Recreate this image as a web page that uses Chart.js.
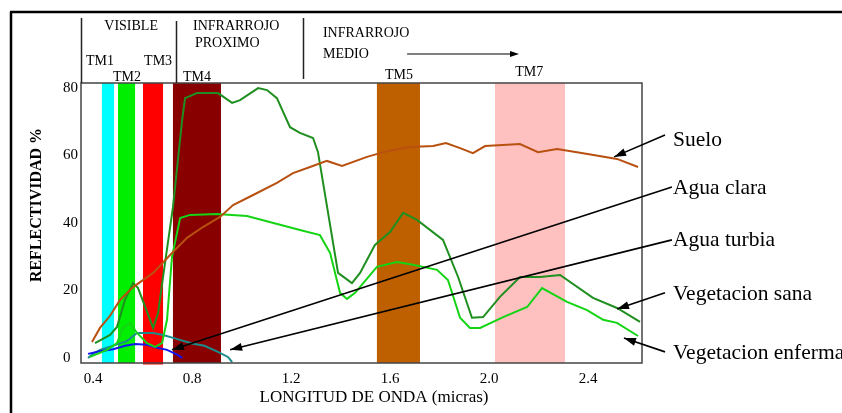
<!DOCTYPE html>
<html>
<head>
<meta charset="utf-8">
<script src="https://cdn.jsdelivr.net/npm/chart.js@4.4.1/dist/chart.umd.min.js"></script>
<style>
  html, body { margin: 0; padding: 0; background: #fff; }
  canvas { display: block; }
</style>
</head>
<body>
<canvas id="c" width="842" height="413"></canvas>
<script>
// Axis ticks
const xTicks = [0.4, 0.8, 1.2, 1.6, 2.0, 2.4];
const yTicks = [0, 20, 40, 60, 80];

// Spectral reflectance curves (wavelength in micrometres, reflectance in %)
const sueloX = [0.396, 0.428, 0.469, 0.509, 0.562, 0.643, 0.723, 0.780, 0.844, 0.913, 0.966, 1.047, 1.143, 1.208, 1.277, 1.345, 1.406, 1.507, 1.588, 1.681, 1.774, 1.826, 1.883, 1.935, 1.984, 2.125, 2.198, 2.275, 2.380, 2.517, 2.602];
const sueloY = [4.7, 8.9, 12.5, 17.2, 21.0, 25.2, 31.4, 35.6, 38.8, 41.8, 45.3, 48.3, 51.9, 54.8, 56.6, 58.4, 56.9, 59.6, 61.3, 62.5, 62.8, 63.7, 62.2, 60.7, 62.8, 63.4, 61.0, 61.9, 60.7, 59.0, 56.6];

const vegSanaX = [0.408, 0.469, 0.497, 0.529, 0.562, 0.582, 0.643, 0.663, 0.683, 0.723, 0.760, 0.772, 0.820, 0.905, 0.962, 0.994, 1.067, 1.103, 1.143, 1.196, 1.236, 1.289, 1.309, 1.390, 1.446, 1.479, 1.539, 1.600, 1.653, 1.709, 1.814, 1.875, 1.931, 1.976, 2.044, 2.125, 2.206, 2.287, 2.420, 2.517, 2.610];
const vegSanaY = [4.4, 6.8, 9.2, 17.2, 22.2, 20.7, 8.9, 13.3, 24.0, 44.7, 70.5, 77.0, 78.5, 78.5, 75.6, 76.4, 80.0, 79.4, 77.0, 68.4, 66.7, 65.2, 61.0, 25.2, 22.2, 25.2, 33.5, 37.3, 43.0, 40.9, 35.0, 24.0, 11.9, 12.1, 18.1, 24.0, 24.0, 24.6, 17.8, 14.8, 10.7];

const vegEnfermaX = [0.388, 0.457, 0.497, 0.521, 0.549, 0.578, 0.618, 0.651, 0.679, 0.699, 0.719, 0.752, 0.792, 0.901, 1.022, 1.236, 1.317, 1.358, 1.398, 1.426, 1.459, 1.547, 1.628, 1.693, 1.790, 1.834, 1.883, 1.923, 1.964, 2.057, 2.154, 2.214, 2.315, 2.396, 2.461, 2.517, 2.602];
const vegEnfermaY = [0.3, 2.4, 4.4, 8.9, 10.4, 7.4, 4.4, 3.3, 4.4, 11.3, 29.9, 41.5, 42.4, 42.7, 42.1, 37.9, 36.4, 31.1, 19.3, 17.5, 19.3, 27.0, 28.4, 27.6, 26.1, 23.1, 11.9, 8.9, 8.9, 12.1, 15.1, 20.7, 16.6, 14.2, 11.3, 10.4, 6.5];

const aguaClaraX = [0.380, 0.428, 0.481, 0.530, 0.570, 0.618, 0.660, 0.699, 0.740, 0.760];
const aguaClaraY = [1.2, 2.0, 2.6, 3.6, 4.1, 3.9, 3.0, 2.4, 1.0, 0.0];

const aguaTurbiaX = [0.380, 0.400, 0.428, 0.489, 0.537, 0.578, 0.643, 0.683, 0.731, 0.800, 0.850, 0.905, 0.945, 0.962];
const aguaTurbiaY = [0.0, 1.2, 2.4, 3.8, 5.0, 7.4, 7.4, 6.8, 5.8, 4.3, 3.6, 1.8, 0.3, -1.2];

// Landsat TM bands: name, start and end wavelength, fill colour
const bandNames = ['TM1', 'TM2', 'TM3', 'TM4', 'TM5', 'TM7'];
const bandStart = [0.436, 0.501, 0.602, 0.723, 1.547, 2.024];
const bandEnd   = [0.485, 0.570, 0.683, 0.917, 1.721, 2.307];
const bandColors = ['#00ffff', '#00ee00', '#ff0000', '#880000', '#bf6000', '#ffc0c0'];

const FONT = '"Liberation Serif", "DejaVu Serif", serif';

function pts(xs, ys) { return xs.map((x, i) => ({ x: x, y: ys[i] })); }

const series = [
  { label: 'Suelo', data: pts(sueloX, sueloY), color: '#b8500f' },
  { label: 'Vegetacion sana', data: pts(vegSanaX, vegSanaY), color: '#1f8f1f' },
  { label: 'Vegetacion enferma', data: pts(vegEnfermaX, vegEnfermaY), color: '#14d414' },
  { label: 'Agua clara', data: pts(aguaClaraX, aguaClaraY), color: '#1414f0' },
  { label: 'Agua turbia', data: pts(aguaTurbiaX, aguaTurbiaY), color: '#1a8c8c' }
];

// Callout labels with arrows, in data units (tail near the text, head at the curve)
const callouts = [
  { text: 'Suelo',              tx: 2.743, ty: 64.6, from: [2.711, 66.1], to: [2.505, 59.6] },
  { text: 'Agua clara',         tx: 2.743, ty: 50.4, from: [2.739, 50.7], to: [0.719, 2.4] },
  { text: 'Agua turbia',        tx: 2.743, ty: 35.0, from: [2.739, 35.0], to: [0.954, 2.4] },
  { text: 'Vegetacion sana',    tx: 2.743, ty: 18.7, from: [2.711, 19.3], to: [2.517, 14.5] },
  { text: 'Vegetacion enferma', tx: 2.743, ty: 1.5,  from: [2.711, 1.8],  to: [2.545, 5.9] }
];

function arrowHead(ctx, x0, y0, x1, y1, len, half) {
  const a = Math.atan2(y1 - y0, x1 - x0);
  ctx.beginPath();
  ctx.moveTo(x1, y1);
  ctx.lineTo(x1 - len * Math.cos(a) + half * Math.sin(a), y1 - len * Math.sin(a) - half * Math.cos(a));
  ctx.lineTo(x1 - len * Math.cos(a) - half * Math.sin(a), y1 - len * Math.sin(a) + half * Math.cos(a));
  ctx.closePath();
  ctx.fill();
}

const bandPlugin = {
  id: 'bands',
  beforeDatasetsDraw(chart) {
    const { ctx, chartArea: a, scales: { x } } = chart;
    ctx.save();
    bandStart.forEach((s, i) => {
      const p0 = x.getPixelForValue(s), p1 = x.getPixelForValue(bandEnd[i]);
      ctx.fillStyle = bandColors[i];
      ctx.fillRect(p0, a.top, p1 - p0, a.bottom - a.top + (i === 2 ? 1.5 : 0));
    });
    ctx.restore();
  }
};

const decorPlugin = {
  id: 'decor',
  afterDraw(chart) {
    const { ctx, chartArea: a, scales: { x, y } } = chart;
    ctx.save();

    // plot frame
    ctx.strokeStyle = '#444';
    ctx.lineWidth = 1.5;
    ctx.strokeRect(a.left, a.top, a.right - a.left, a.bottom - a.top);

    // outer frame (top and left)
    ctx.strokeStyle = '#000';
    ctx.lineWidth = 2.5;
    ctx.beginPath();
    ctx.moveTo(10, 12); ctx.lineTo(chart.width, 12);
    ctx.moveTo(11, 12); ctx.lineTo(11, chart.height);
    ctx.stroke();

    // spectral region separators
    ctx.strokeStyle = '#222';
    ctx.lineWidth = 1.5;
    const seps = [[x.min, 65, 0], [0.7354, 62, 0], [1.2485, 65, 4]];
    ctx.beginPath();
    seps.forEach(s => {
      const px = Math.round(x.getPixelForValue(s[0])) + 0.5;
      ctx.moveTo(px, a.top - s[1]); ctx.lineTo(px, a.top - s[2]);
    });
    ctx.stroke();

    // region and band titles
    ctx.fillStyle = '#000';
    ctx.font = '14px ' + FONT;
    ctx.textBaseline = 'middle';
    const header = [
      ['VISIBLE', 0.554, -57, 'center'],
      ['INFRARROJO', 0.804, -57, 'left'],
      ['PROXIMO', 0.812, -40, 'left'],
      ['INFRARROJO', 1.329, -50, 'left'],
      ['MEDIO', 1.329, -29, 'left'],
      ['TM1', 0.428, -22, 'center'],
      ['TM2', 0.537, -6, 'center'],
      ['TM3', 0.663, -22, 'center'],
      ['TM4', 0.820, -6, 'center'],
      ['TM5', 1.636, -8, 'center'],
      ['TM7', 2.162, -11, 'center']
    ];
    header.forEach(h => {
      ctx.textAlign = h[3];
      ctx.fillText(h[0], x.getPixelForValue(h[1]), a.top + h[2]);
    });

    // arrow after "MEDIO"
    const ax0 = x.getPixelForValue(1.669), ax1 = x.getPixelForValue(2.121), ay = a.top - 29;
    ctx.strokeStyle = '#000';
    ctx.lineWidth = 1.2;
    ctx.beginPath(); ctx.moveTo(ax0, ay); ctx.lineTo(ax1 - 4, ay); ctx.stroke();
    arrowHead(ctx, ax0, ay, ax1, ay, 9, 3);

    // axis titles
    ctx.font = 'bold 16px ' + FONT;
    ctx.textAlign = 'center';
    ctx.save();
    ctx.translate(37, 205);
    ctx.rotate(-Math.PI / 2);
    ctx.fillText('REFLECTIVIDAD %', 0, 0);
    ctx.restore();
    ctx.font = '17px ' + FONT;
    ctx.fillText('LONGITUD DE ONDA (micras)', 374, 398);

    // callouts
    ctx.font = '21.5px ' + FONT;
    ctx.textAlign = 'left';
    ctx.lineWidth = 1.6;
    callouts.forEach(c => {
      const fx = x.getPixelForValue(c.from[0]), fy = y.getPixelForValue(c.from[1]);
      const tx = x.getPixelForValue(c.to[0]), ty = y.getPixelForValue(c.to[1]);
      ctx.beginPath(); ctx.moveTo(fx, fy); ctx.lineTo(tx, ty); ctx.stroke();
      arrowHead(ctx, fx, fy, tx, ty, 12, 4);
      ctx.fillText(c.text, x.getPixelForValue(c.tx), y.getPixelForValue(c.ty));
    });

    ctx.restore();
  }
};

new Chart(document.getElementById('c'), {
  type: 'line',
  data: {
    datasets: series.map(s => ({
      label: s.label,
      data: s.data,
      borderColor: s.color,
      backgroundColor: s.color,
      borderWidth: 2,
      pointRadius: 0,
      tension: 0,
      fill: false
    }))
  },
  options: {
    responsive: false,
    devicePixelRatio: 1,
    animation: false,
    events: [],
    layout: { padding: { top: 83, right: 200, left: 63, bottom: 0 } },
    plugins: { legend: { display: false }, tooltip: { enabled: false }, title: { display: false } },
    scales: {
      x: {
        type: 'linear',
        min: 0.3515,
        max: 2.618,
        grid: { display: false, drawTicks: false },
        border: { display: false },
        afterBuildTicks: s => { s.ticks = xTicks.map(v => ({ value: v })); },
        afterFit: s => { s.height = 50; },
        ticks: {
          padding: 7,
          color: '#000',
          font: { family: FONT, size: 15 },
          maxRotation: 0,
          callback: v => Number(v).toFixed(1)
        }
      },
      y: {
        type: 'linear',
        min: -1.5,
        max: 81.5,
        grid: { display: false, drawTicks: false },
        border: { display: false },
        afterBuildTicks: s => { s.ticks = yTicks.map(v => ({ value: v })); },
        afterFit: s => { s.width = 18; },
        ticks: {
          crossAlign: 'far',
          padding: 4,
          color: '#000',
          font: { family: FONT, size: 15 },
          callback: v => String(v)
        }
      }
    }
  },
  plugins: [bandPlugin, decorPlugin]
});
</script>
</body>
</html>
